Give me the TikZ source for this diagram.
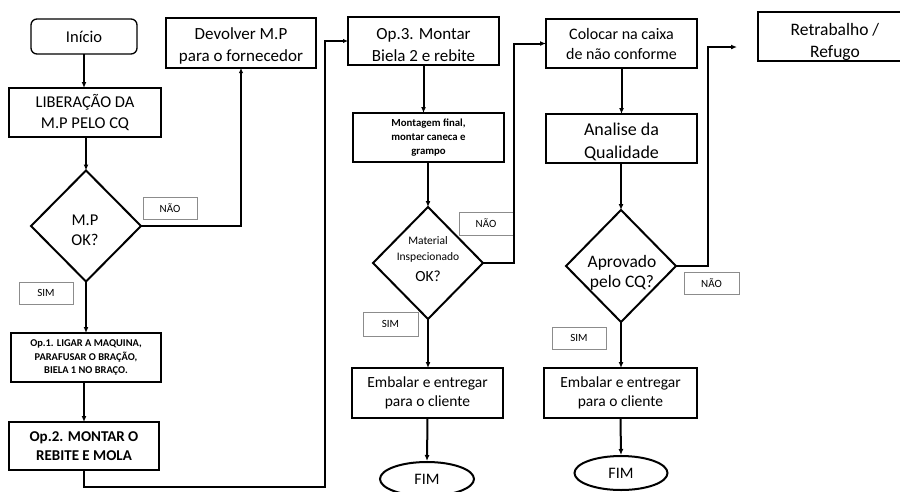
\documentclass[tikz,border=0pt]{standalone}
\usepackage{fontspec}
\setmainfont{Carlito}
\usetikzlibrary{shapes.geometric,arrows.meta}
\newcommand{\fs}[2]{\fontsize{#1}{#2}\selectfont}
\tikzset{
  bx/.style={draw, line width=1.1pt, rectangle, inner sep=0pt, outer sep=0pt, align=center},
  lt/.style={align=center, inner sep=0pt},
  dm/.style={draw, line width=2pt, diamond, inner sep=0pt, outer sep=0pt, align=center},
  dtx/.style={anchor=base, inner sep=0pt},
  lbl/.style={draw=black!45, line width=0.6pt, rectangle, inner sep=0pt, minimum width=54pt, minimum height=22pt, font=\fs{11}{13}},
  fimst/.style={draw, line width=2pt, ellipse, inner sep=0pt, minimum width=94pt, minimum height=34pt, font=\fs{16}{19}},
  arr/.style={line width=2pt, -{Latex[length=6pt,width=5pt]}},
}
\begin{document}
\begin{tikzpicture}[x=1pt,y=-1pt]
\useasboundingbox (0,0) rectangle (900,491);
\clip (0,0) rectangle (900,491);
% column 1
\node[bx, rounded corners=6pt, line width=1.3pt, minimum width=106pt, minimum height=35pt, font=\fs{16.5}{19}] (inicio) at (84,36.5) {Início};
\node[bx, minimum width=152pt, minimum height=49pt, font=\fs{16.5}{21}] (lib) at (85,112.5) {LIBERAÇÃO DA\\M.P PELO CQ};
\node[bx, minimum width=150pt, minimum height=50pt, label={[lt, font=\fs{17}{22}, yshift=-2.5pt]center:{Devolver M.P\\para o fornecedor}}] (dev) at (241,43) {};
\node[dm, minimum width=110pt, minimum height=111pt] (d1) at (86,226) {};
\node[dtx, font=\fs{16.5}{19}] (d1a) at (85,225.5) {M.P};
\node[dtx, font=\fs{16.5}{19}] (d1b) at (85,245.5) {OK?};
\node[lbl] (nao1) at (170,208) {NÃO};
\node[lbl] (sim1) at (46,293) {SIM};
\node[bx, minimum width=150pt, minimum height=49pt, font=\bfseries\fs{10.4}{13.2}] (op1) at (86,357.5) {Op.1. LIGAR A MAQUINA,\\PARAFUSAR O BRAÇÃO,\\BIELA 1 NO BRAÇO.};
\node[bx, minimum width=150pt, minimum height=48pt, font=\bfseries\fs{15}{18.5}] (op2) at (84,446) {Op.2. MONTAR O\\REBITE E MOLA};
% column 2
\node[bx, minimum width=151pt, minimum height=48pt, label={[lt, font=\fs{17}{21.5}, yshift=-4pt]center:{Op.3. Montar\\Biela 2 e rebite}}] (op3) at (423.5,41) {};
\node[bx, minimum width=151pt, minimum height=49pt, font=\bfseries\fs{10.8}{14.2}] (mont) at (428.5,137.5) {Montagem final,\\montar caneca e\\grampo};
\node[dm, minimum width=110pt, minimum height=112pt] (d2) at (428,263) {};
\node[font=\fs{11.5}{14}] (d2a) at (428,241) {Material};
\node[font=\fs{11.5}{14}] (d2b) at (428,257.5) {Inspecionado};
\node[font=\fs{15.5}{18}] (d2c) at (428,276) {OK?};
\node[lbl, minimum height=23pt] (nao2) at (486,223.5) {NÃO};
\node[lbl, minimum width=55pt, minimum height=24pt] (sim2) at (390.5,324) {SIM};
\node[bx, minimum width=151pt, minimum height=50pt, font=\fs{15.5}{18.5}] (emb1) at (427.5,393) {Embalar e entregar\\para o cliente};
\node[fimst] (fim1) at (427,479) {FIM};
% column 3
\node[bx, minimum width=151pt, minimum height=49pt, font=\fs{16}{20}] (col) at (621.5,43.5) {Colocar na caixa\\de não conforme};
\node[bx, minimum width=151pt, minimum height=49pt, label={[lt, font=\fs{18}{23}, yshift=-3pt]center:{Analise da\\Qualidade}}] (ana) at (621.5,138.5) {};
\node[dm, minimum width=110pt, minimum height=112pt] (d3) at (621,266) {};
\node[dtx, font=\fs{17.5}{20}] (d3a) at (622,267.5) {Aprovado};
\node[dtx, font=\fs{17.5}{20}] (d3b) at (622,287.5) {pelo CQ?};
\node[lbl, minimum width=55pt] (nao3) at (711.5,283) {NÃO};
\node[lbl] (sim3) at (579,338) {SIM};
\node[bx, minimum width=153pt, minimum height=50pt, font=\fs{15.5}{18.5}] (emb2) at (620.5,393) {Embalar e entregar\\para o cliente};
\node[fimst, minimum width=93pt] (fim2) at (621,473) {FIM};
% column 4
\node[bx, minimum width=154pt, minimum height=49pt, label={[lt, font=\fs{17.5}{22}, yshift=-5pt]center:{Retrabalho /\\Refugo}}] (ret) at (835,36.5) {};
% connectors
\coordinate (c1) at (325,487);
\coordinate (c2) at (514,263);
\coordinate (c3) at (708,266);
\coordinate (e3) at (737,47);
\draw[arr] (inicio.south) -- (inicio.south |- lib.north);
\draw[arr] (lib.south -| d1.north) -- (d1.north);
\draw[line width=1.6pt, -{Latex[length=5pt,width=4.5pt]}] (d1.east) -| (dev.south);
\draw[arr] (d1.south) -- (d1.south |- op1.north);
\draw[arr] (op1.south -| op2.north) -- (op2.north);
\draw[line width=1.2pt, -{Latex[length=5pt,width=4.5pt]}] (op2.south) |- (c1) |- (op3.west);
\draw[arr] (op3.south) -- (op3.south |- mont.north);
\draw[arr] (mont.south -| d2.north) -- (d2.north);
\draw[arr] (d2.east) -- (c2) |- (col.west);
\draw[arr] (d2.south) -- (d2.south |- emb1.north);
\draw[arr] (emb1.south) -- (fim1.north);
\draw[arr] (col.south -| ana.south) -- (ana.north);
\draw[arr] (ana.south -| d3.north) -- (d3.north);
\draw[arr] (d3.east) -- (c3) |- (e3);
\draw[arr] (d3.south) -- (d3.south |- emb2.north);
\draw[arr] (emb2.south) -- (fim2.north);
\end{tikzpicture}
\end{document}
